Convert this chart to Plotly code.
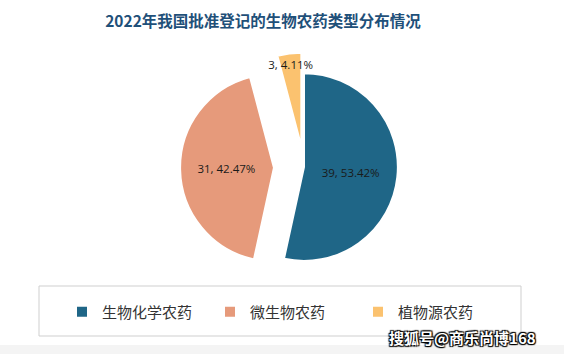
import plotly.graph_objects as go

categories = ["生物化学农药", "微生物农药", "植物源农药"]
values = [39, 31, 3]
colors = ["#1f6687", "#e69a7b", "#fbc26f"]
pulls = [0, 0.32, 0.22]

W, H = 564, 354

def px(x):
    return x / W

def py(y):
    return 1 - y / H

fig = go.Figure()
fig.add_trace(go.Pie(
    labels=categories,
    values=values,
    sort=False,
    direction="clockwise",
    rotation=0,
    pull=pulls,
    marker=dict(colors=colors, line=dict(color="white", width=2)),
    texttemplate="%{value}, %{percent:.2%}",
    textposition="inside",
    insidetextorientation="horizontal",
    textfont=dict(family="Open Sans", size=11.5, color="#1a1a1a"),
    domain=dict(x=[0.319, 0.759], y=[0.178, 0.878]),
    hoverinfo="label+value+percent",
))

fig.update_layout(
    width=W, height=H,
    margin=dict(l=0, r=0, t=0, b=0),
    paper_bgcolor="white",
    plot_bgcolor="white",
    uniformtext=dict(minsize=11.5, mode="show"),
    title=dict(
        text="<b>2022年我国批准登记的生物农药类型分布情况</b>",
        x=px(263), xanchor="center", y=py(22), yanchor="middle", yref="paper",
        font=dict(family="Noto Sans CJK SC", size=15.5, color="#1f5079"),
    ),
    showlegend=True,
    legend=dict(
        orientation="h",
        x=px(62), xanchor="left",
        y=py(312), yanchor="middle",
        entrywidth=103,
        entrywidthmode="pixels",
        font=dict(family="Noto Sans CJK SC", size=15, color="#333333"),
        bgcolor="rgba(0,0,0,0)",
        borderwidth=0,
    ),
    shapes=[
        dict(type="rect", xref="paper", yref="paper",
             x0=px(39), x1=px(521), y0=py(336), y1=py(286),
             line=dict(color="#cfcfcf", width=1), fillcolor="rgba(0,0,0,0)", layer="below"),
        dict(type="rect", xref="paper", yref="paper",
             x0=0, x1=1, y0=0, y1=py(345),
             line=dict(width=0), fillcolor="#f4f4f4", layer="below"),
    ],
    annotations=[
        dict(text="<b>搜狐号@商乐尚博168</b>", xref="paper", yref="paper",
             x=px(538), xanchor="right", y=py(337), yanchor="middle", showarrow=False,
             font=dict(family="Noto Sans CJK SC", size=15, color="white",
                       shadow="1px 1px 1px #000, -1px -1px 1px #000, 1px -1px 1px #000, -1px 1px 1px #000")),
    ],
)

fig.write_html("out.html")
